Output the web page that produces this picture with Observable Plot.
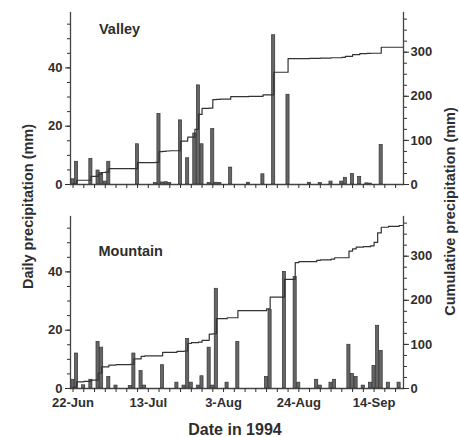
<!DOCTYPE html>
<html><head><meta charset="utf-8">
<script src="https://cdn.jsdelivr.net/npm/d3@7"></script>
<script src="https://cdn.jsdelivr.net/npm/@observablehq/plot@0.6"></script>
<style>
html,body{margin:0;padding:0;background:#fff;}
#chart{width:459px;height:437px;}
</style></head><body><div id="chart"></div>
<script>
// ---- data ----
const sites = ["Valley", "Mountain"];
const valleyDates = ["06-22","06-23","06-27","06-29","06-30","07-01","07-02","07-10","07-15","07-16","07-17","07-18","07-19","07-22","07-24","07-26","07-27","07-28","07-30","07-31","08-01","08-02","08-05","08-10","08-14","08-17","08-21","08-27","08-30","09-02","09-05","09-06","09-08","09-10","09-12","09-13","09-16"];
const valleyMm = [1.8,7.8,8.8,4.8,4.0,1.0,7.8,13.8,0.5,24.2,0.7,0.8,0.5,22.0,9.0,17.5,34.0,13.8,0.5,19.0,0.6,0.5,5.8,0.6,3.5,51.2,30.8,0.6,0.5,1.0,1.0,2.3,3.6,2.6,0.4,0.3,13.6];
const mountainDates = ["06-22","06-23","06-25","06-27","06-29","06-30","07-02","07-04","07-08","07-09","07-11","07-12","07-17","07-21","07-23","07-24","07-25","07-27","07-28","07-30","07-31","08-01","08-04","08-07","08-15","08-16","08-20","08-23","08-24","08-29","08-30","09-02","09-03","09-07","09-08","09-09","09-11","09-13","09-14","09-15","09-16","09-18","09-21"];
const mountainMm = [3,12,1.1,3,16,14,4,1,0.9,12,6,1,8,2,1,17,2,1,4.2,14,1,34.2,2,16,4,26.9,40,38.2,2,3,1,2,3,15,5,4,1,2,7.7,21.5,12.9,2,2];
const dailyTicks = [0, 20, 40];
const cumTicks = [0, 100, 200, 300];
const dateTickLabels = ["22-Jun", "13-Jul", "3-Aug", "24-Aug", "14-Sep"];
const yLabelLeft = "Daily precipitation (mm)";
const yLabelRight = "Cumulative precipitation (mm)";
const xLabel = "Date in 1994";
const year = 1994;

// ---- build tables ----
const parseDay = d3.utcParse("%Y-%m-%d");
const parseTick = d3.utcParse("%d-%b-%Y");
const dailyMax = 59, cumMax = 390, k = dailyMax / cumMax;
const daily = [];
const seriesBySite = {Valley: [valleyDates, valleyMm], Mountain: [mountainDates, mountainMm]};
for (const s of sites) {
  const [ds, vs] = seriesBySite[s];
  ds.forEach((d, i) => daily.push({site: s, date: parseDay(`${year}-${d}`), mm: vs[i]}));
}
const first = parseDay(`${year}-06-21`), last = parseDay(`${year}-09-23`);
const allDays = d3.utcDay.range(first, d3.utcDay.offset(last, 1));
const cum = [];
for (const s of sites) {
  const byDay = d3.rollup(daily.filter(d => d.site === s), v => d3.sum(v, d => d.mm), d => +d.date);
  let run = 0;
  for (const day of allDays) { run += byDay.get(+day) || 0; cum.push({site: s, date: day, cum: run}); }
}
const tickDates = dateTickLabels.map(l => parseTick(`${l}-${year}`));
const start = tickDates[0];
const minorDates = d3.range(0, 91, 3).map(i => d3.utcDay.offset(start, i));
const xDomain = [d3.utcHour.offset(start, -17), d3.utcHour.offset(start, 92 * 24 + 5)];

const ink = "#2e2e2e", axisInk = "#444";
const chart = Plot.plot({
  width: 459, height: 437,
  marginLeft: 70, marginRight: 56, marginTop: 12, marginBottom: 48,
  style: {fontFamily: "'Liberation Sans', Arial, Helvetica, sans-serif", fontSize: "13px", fontWeight: "bold", color: ink, background: "#fff"},
  x: {type: "utc", domain: xDomain},
  y: {domain: [0, dailyMax]},
  fy: {domain: sites, axis: null, paddingInner: 0.1565, paddingOuter: 0},
  marks: [
    Plot.rect(daily, {
      x1: d => d3.utcHour.offset(d.date, -10.5), x2: d => d3.utcHour.offset(d.date, 10.5),
      y1: 0, y2: "mm", fy: "site", fill: "#666", stroke: "#333", strokeWidth: 0.7
    }),
    Plot.lineY(cum, {x: "date", y: d => d.cum * k, fy: "site", curve: "step-after", stroke: "#333", strokeWidth: 1.2, clip: true}),
    Plot.frame({anchor: "left", stroke: axisInk, strokeWidth: 1.3}),
    Plot.frame({anchor: "right", stroke: axisInk, strokeWidth: 1.3}),
    Plot.frame({anchor: "bottom", stroke: axisInk, strokeWidth: 1.3}),
    Plot.axisY(d3.range(0, 56, 5), {anchor: "left", tickSize: 3, tickFormat: () => "", label: null}),
    Plot.axisY(dailyTicks, {anchor: "left", tickSize: 5, tickPadding: 3, label: null}),
    Plot.axisY(d3.range(0, cumMax - 10, 25).map(v => v * k), {anchor: "right", tickSize: 3, tickFormat: () => "", label: null}),
    Plot.axisY(cumTicks.map(v => v * k), {anchor: "right", tickSize: 5, tickPadding: 2, tickFormat: d => String(Math.round(d / k)), label: null}),
    Plot.axisX(minorDates, {facetAnchor: null, tickSize: 4, tickFormat: () => "", label: null}),
    Plot.axisX(tickDates, {tickSize: 0, tickPadding: 9, tickFormat: d3.utcFormat("%-d-%b"), label: null}),
    Plot.text([sites[0]], {fy: d => d, text: d => d, frameAnchor: "top-left", dx: 28.5, dy: 17, textAnchor: "start", lineAnchor: "middle", fontSize: 14.5, fontWeight: "bold", fill: ink}),
    Plot.text([sites[1]], {fy: d => d, text: d => d, frameAnchor: "top-left", dx: 28, dy: 34.8, textAnchor: "start", lineAnchor: "middle", fontSize: 14.5, fontWeight: "bold", fill: ink}),
    Plot.text([yLabelLeft], {fy: () => sites[0], text: d => d, frameAnchor: "bottom-left", rotate: -90, dx: -42.5, dy: 22, textAnchor: "middle", lineAnchor: "middle", fontSize: 14.5, fontWeight: "bold", fill: ink}),
    Plot.text([yLabelRight], {fy: () => sites[0], text: d => d, frameAnchor: "bottom-right", rotate: -90, dx: 46.5, dy: 27, textAnchor: "middle", lineAnchor: "middle", fontSize: 14.5, fontWeight: "bold", fill: ink}),
    Plot.text([xLabel], {fy: () => sites[1], text: d => d, frameAnchor: "bottom", dx: -2, dy: 41, textAnchor: "middle", lineAnchor: "middle", fontSize: 16, fontWeight: "bold", fill: ink})
  ]
});
document.getElementById("chart").append(chart);
</script></body></html>
